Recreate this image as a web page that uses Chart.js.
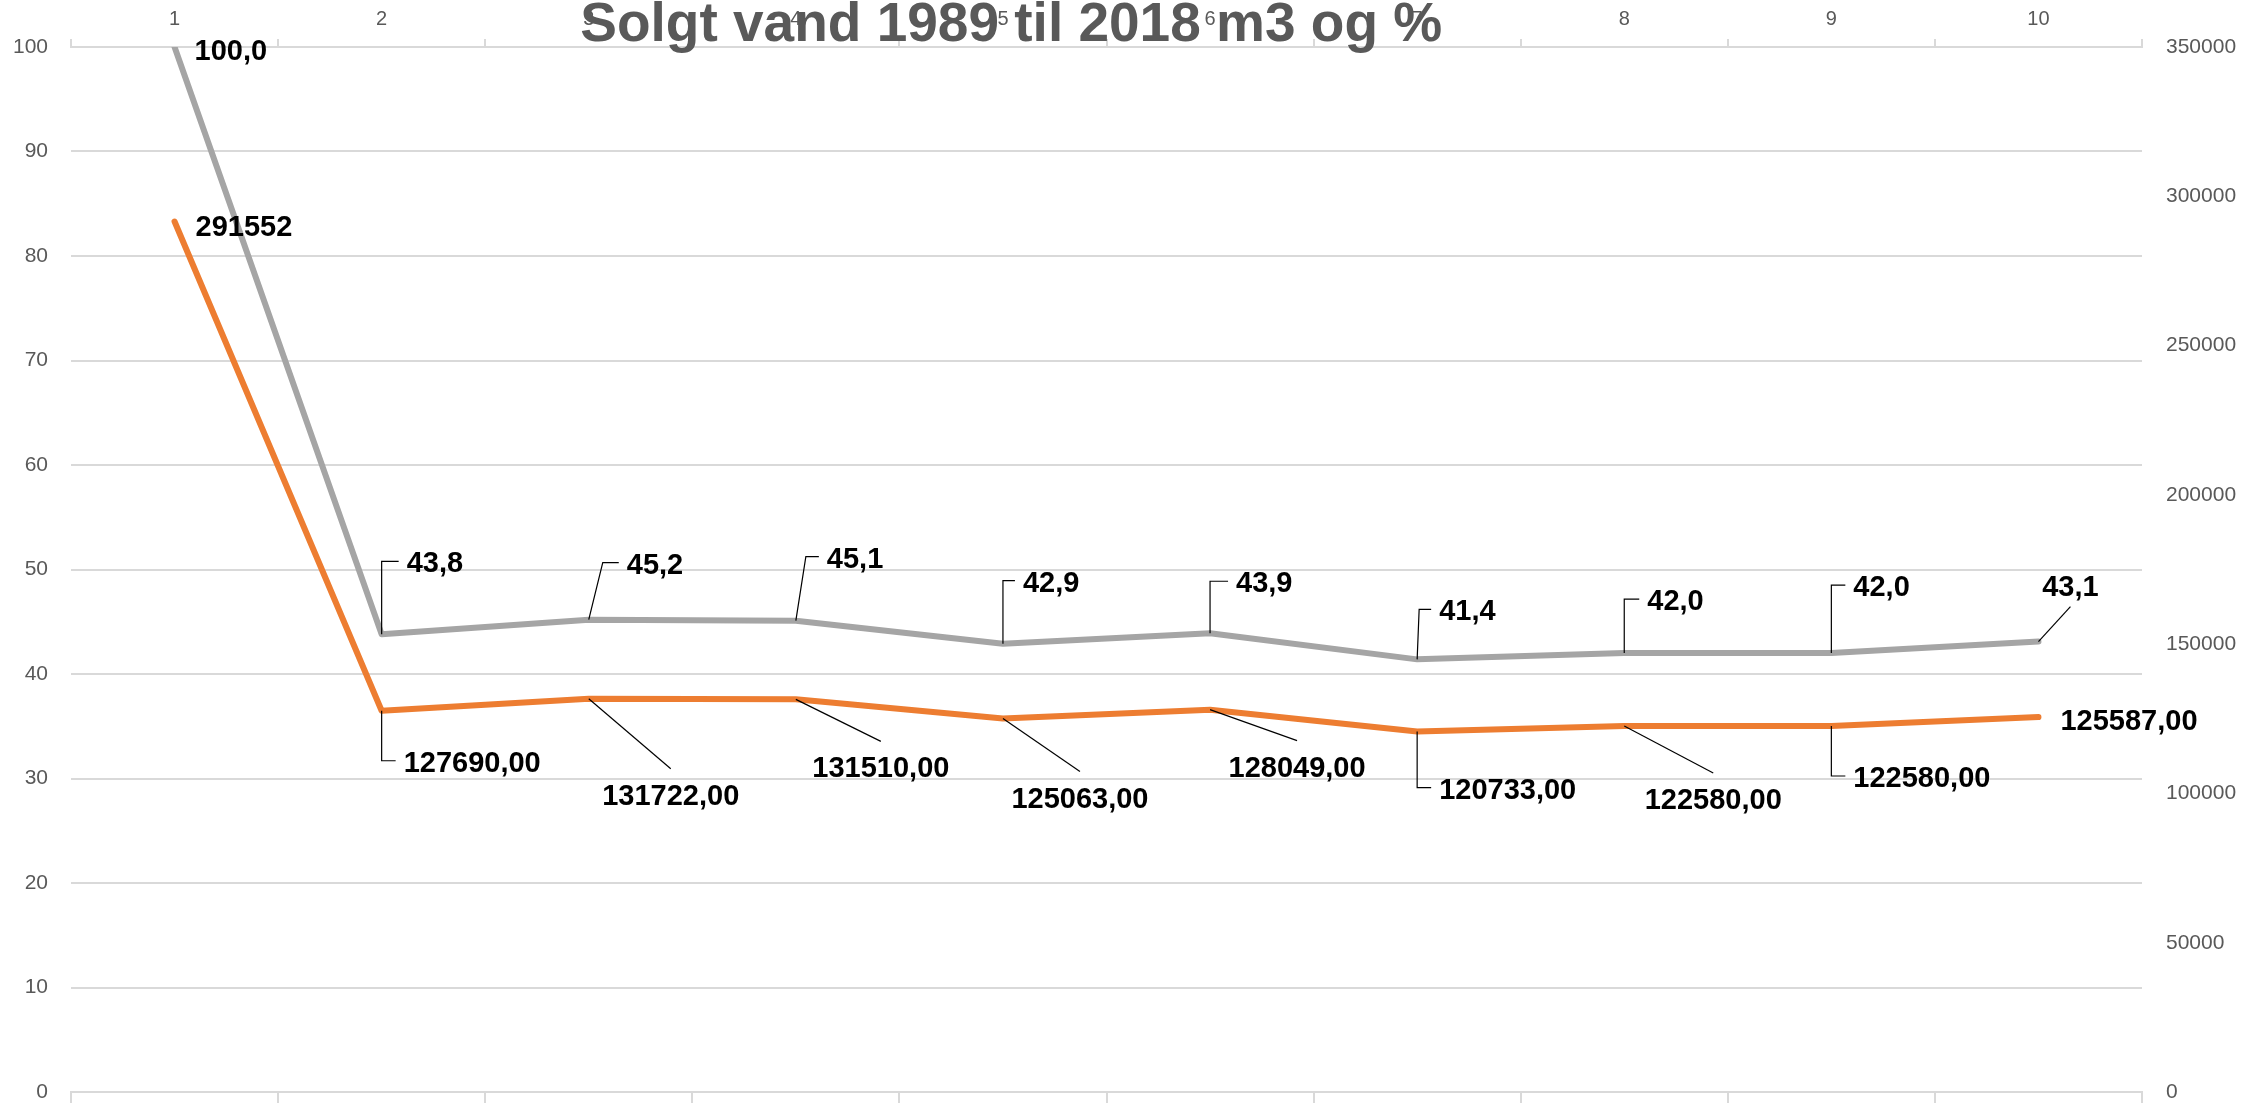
<!DOCTYPE html>
<html>
<head>
<meta charset="utf-8">
<script src="https://cdn.jsdelivr.net/npm/chart.js@4.4.1/dist/chart.umd.min.js"></script>
<style>
  html, body { margin: 0; padding: 0; background: #fff; overflow: hidden; }
  #soldWater { display: block; }
</style>
</head>
<body>
<canvas id="soldWater" width="2259" height="1103"></canvas>
<script>
const categories = ["1", "2", "3", "4", "5", "6", "7", "8", "9", "10"];

// sold water, m3 (right axis)
const soldM3 = [291552, 127690, 131722, 131510, 125063, 128049, 120733, 122580, 122580, 125587];

// sold water in % of first year (left axis)
const soldPct = [100.0, 43.8, 45.2, 45.1, 42.9, 43.9, 41.4, 42.0, 42.0, 43.1];

const pctLabels = soldPct.map(v => v.toFixed(1).replace(".", ","));
const m3Labels = soldM3.map((v, i) => i === 0 ? String(v) : v.toFixed(2).replace(".", ","));

const titleText = "Solgt vand 1989 til 2018 m3 og %";

// label placement relative to its point: [kind, dx, dy, kink]
const pctPlacement = [
    ["none", 20, 2, 0],
    ["elbow", 25, -73, 0],
    ["elbow", 38, -57, 14],
    ["elbow", 31, -64, 10],
    ["elbow", 20, -63, 0],
    ["elbow", 26, -52, 0],
    ["elbow", 22, -50, 2],
    ["elbow", 23, -54, 0],
    ["elbow", 22, -68, 0],
    ["diag", 32, -57, 0]
];

const m3Placement = [
    ["none", 21, 3, 0],
    ["elbow", 22, 50, 0],
    ["diag", 82, 95, 0],
    ["diag", 85, 67, 0],
    ["diag", 77, 78, 0],
    ["diag", 87, 56, 0],
    ["elbow", 22, 56, 0],
    ["diag", 89, 72, 0],
    ["elbow", 22, 50, 0],
    ["none", 22, 2, 0]
];

const leaderLabels = {
    id: "leaderLabels",
    afterDatasetsDraw(chart, args, opts) {
        const ctx = chart.ctx;
        ctx.save();
        ctx.font = "bold 29px 'Liberation Sans', Arial, sans-serif";
        ctx.fillStyle = "#000000";
        ctx.strokeStyle = "#000000";
        ctx.lineWidth = 1.2;
        ctx.textBaseline = "middle";
        opts.sets.forEach(set => {
            const meta = chart.getDatasetMeta(set.dataset);
            meta.data.forEach((pt, i) => {
                const [kind, dx, dy, kink] = set.placement[i];
                const px = pt.x, py = pt.y;
                const lx = px + dx, ly = py + dy;
                if (kind === "elbow") {
                    ctx.beginPath();
                    ctx.moveTo(px, py);
                    ctx.lineTo(px + kink, ly);
                    ctx.lineTo(lx - 8, ly);
                    ctx.stroke();
                } else if (kind === "diag") {
                    ctx.beginPath();
                    ctx.moveTo(px, py);
                    ctx.lineTo(lx, dy < 0 ? ly + 22 : ly - 25);
                    ctx.stroke();
                }
                ctx.textAlign = kind === "diag" ? "center" : "left";
                ctx.fillText(set.texts[i], lx, ly + 3);
            });
        });
        ctx.restore();
    },
    afterDraw(chart) {
        const ctx = chart.ctx;
        const area = chart.chartArea;
        ctx.save();
        ctx.font = "bold 55px 'Liberation Sans', Arial, sans-serif";
        ctx.fillStyle = "#595959";
        ctx.textAlign = "center";
        ctx.textBaseline = "alphabetic";
        ctx.fillText(titleText, area.left + (area.right - area.left) * 0.454, 41);
        ctx.restore();
    }
};

const tickFont = { family: "'Liberation Sans', Arial, sans-serif", size: 21 };

new Chart(
    document.getElementById("soldWater"),
    {
        type: "line",
        data: {
            labels: categories,
            datasets: [
                {
                    label: "Procent",
                    data: soldPct,
                    yAxisID: "y",
                    xAxisID: "x",
                    borderColor: "#A5A5A5",
                    borderWidth: 6,
                    pointRadius: 0,
                    tension: 0,
                    borderCapStyle: "round",
                    borderJoinStyle: "round"
                },
                {
                    label: "m3",
                    data: soldM3,
                    yAxisID: "y1",
                    xAxisID: "x",
                    borderColor: "#ED7D31",
                    borderWidth: 6,
                    pointRadius: 0,
                    tension: 0,
                    borderCapStyle: "round",
                    borderJoinStyle: "round"
                }
            ]
        },
        options: {
            responsive: false,
            animation: false,
            layout: { padding: 0 },
            plugins: {
                legend: { display: false },
                title: { display: false },
                tooltip: { enabled: false },
                leaderLabels: {
                    sets: [
                        { dataset: 0, placement: pctPlacement, texts: pctLabels },
                        { dataset: 1, placement: m3Placement, texts: m3Labels }
                    ]
                }
            },
            scales: {
                x: {
                    type: "category",
                    position: "top",
                    offset: true,
                    grid: {
                        offset: true,
                        drawOnChartArea: false,
                        drawTicks: true,
                        tickLength: 8,
                        color: "#d9d9d9",
                        lineWidth: 2
                    },
                    border: { display: true, color: "#d9d9d9", width: 2 },
                    ticks: {
                        color: "#595959",
                        font: { family: "'Liberation Sans', Arial, sans-serif", size: 20 },
                        padding: 8,
                        maxRotation: 0,
                        autoSkip: false
                    },
                    afterFit: s => { s.height = 47; s.paddingLeft = 0; s.paddingRight = 0; }
                },
                x2: {
                    type: "category",
                    position: "bottom",
                    offset: true,
                    grid: {
                        offset: true,
                        drawOnChartArea: false,
                        drawTicks: true,
                        tickLength: 11,
                        color: "#d9d9d9",
                        lineWidth: 2
                    },
                    border: { display: true, color: "#d9d9d9", width: 2 },
                    ticks: { display: false },
                    afterFit: s => { s.height = 11; s.paddingLeft = 0; s.paddingRight = 0; }
                },
                y: {
                    position: "left",
                    min: 0,
                    max: 100,
                    ticks: {
                        stepSize: 10,
                        color: "#595959",
                        font: tickFont,
                        padding: 23
                    },
                    grid: {
                        color: "#d9d9d9",
                        lineWidth: 2,
                        drawTicks: false
                    },
                    border: { display: false },
                    afterFit: s => { s.width = 71; s.paddingTop = 0; s.paddingBottom = 0; }
                },
                y1: {
                    position: "right",
                    min: 0,
                    max: 350000,
                    ticks: {
                        stepSize: 50000,
                        color: "#595959",
                        font: tickFont,
                        padding: 16,
                        callback: v => String(v)
                    },
                    grid: { display: false },
                    border: { display: false },
                    afterFit: s => { s.width = 117; s.paddingTop = 0; s.paddingBottom = 0; }
                }
            }
        },
        plugins: [leaderLabels]
    }
);
</script>
</body>
</html>
